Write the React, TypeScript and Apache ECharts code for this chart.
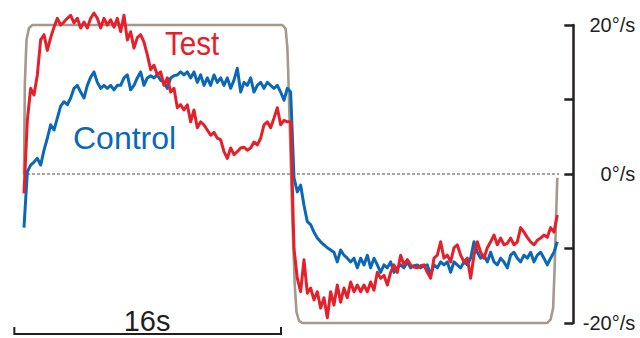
import React, { useEffect, useRef } from "react";
import * as echarts from "echarts";

// Eye-velocity traces sampled every 0.2 s over two 16 s stimulus half-cycles.
const SAMPLE_INTERVAL = 0.2; // seconds

const TEST_VELOCITY = [
  -2.6, 7.2, 11.5, 10.6, 13.3, 18.0, 18.7, 16.6, 18.3, 19.7,
  20.9, 20.0, 20.4, 20.9, 21.3, 20.3, 20.9, 19.6, 20.4, 19.6,
  20.9, 21.6, 20.9, 19.6, 20.9, 20.0, 20.7, 19.7, 20.9, 19.1,
  21.3, 18.0, 19.1, 16.9, 18.3, 18.7, 17.7, 16.0, 14.0, 14.6,
  13.3, 13.7, 11.9, 12.9, 11.0, 11.5, 8.9, 9.3, 8.6, 9.3,
  7.0, 8.6, 6.2, 7.0, 6.6, 5.9, 5.2, 5.6, 4.8, 4.6,
  3.0, 2.1, 3.5, 2.6, 3.0, 3.5, 3.6, 3.2, 3.5, 4.3,
  3.9, 4.8, 6.6, 7.0, 6.2, 7.5, 8.9, 6.6, 7.2, 7.0,
  7.0, -10.0, -14.0, -15.8, -11.5, -16.0, -15.3, -16.9, -15.8, -18.0,
  -16.6, -19.3, -15.8, -17.6, -14.9, -17.2, -15.3, -16.6, -14.5, -15.8,
  -14.9, -15.8, -14.9, -15.8, -14.5, -15.6, -13.2, -14.0, -13.6, -14.9,
  -13.2, -12.2, -13.2, -10.9, -12.2, -11.5, -12.2, -12.5, -12.6, -12.3,
  -12.2, -13.2, -14.0, -11.3, -10.9, -9.1, -11.3, -10.9, -11.8, -9.9,
  -9.5, -10.9, -11.8, -11.3, -14.0, -10.9, -9.1, -10.5, -11.3, -9.9,
  -9.1, -8.2, -9.5, -8.6, -9.5, -9.3, -8.6, -9.5, -9.1, -7.2,
  -7.8, -8.5, -9.1, -9.5, -8.9, -8.6, -8.2, -8.5, -7.2, -7.8,
  -5.5,
];

const CONTROL_VELOCITY = [
  -7.2, 0.3, 1.2, 1.6, 2.1, 1.2, 3.2, 4.8, 6.6, 5.9,
  7.5, 9.1, 9.7, 9.3, 10.2, 11.5, 11.9, 11.0, 10.2, 11.9,
  13.0, 13.7, 12.3, 11.5, 11.9, 11.5, 11.9, 11.3, 11.9, 11.9,
  12.9, 13.3, 11.3, 11.9, 12.9, 13.7, 11.9, 12.9, 13.2, 12.9,
  13.3, 12.6, 12.3, 11.5, 12.9, 13.2, 13.3, 13.7, 13.3, 13.7,
  12.9, 13.7, 12.3, 13.3, 11.9, 12.9, 11.9, 13.3, 12.3, 12.9,
  11.9, 12.9, 11.5, 12.6, 14.2, 11.0, 12.3, 11.9, 12.9, 11.0,
  11.9, 12.3, 11.5, 12.3, 11.9, 11.5, 11.9, 11.0, 9.9, 11.5,
  11.0, -0.5, -2.4, -1.5, -4.2, -6.4, -6.8, -7.8, -8.6, -9.1,
  -9.5, -9.9, -10.2, -10.5, -11.8, -10.2, -10.9, -11.3, -11.8, -11.3,
  -12.6, -11.3, -12.2, -10.9, -12.6, -11.3, -12.2, -13.2, -12.2, -12.6,
  -11.8, -13.2, -12.6, -12.2, -12.6, -11.8, -12.6, -12.3, -12.2, -12.6,
  -12.3, -12.2, -13.6, -12.2, -12.6, -11.8, -12.2, -11.8, -13.2, -11.8,
  -12.2, -12.6, -11.8, -12.2, -11.3, -9.1, -10.5, -11.3, -10.9, -11.8,
  -10.5, -11.8, -12.2, -11.3, -11.8, -12.6, -10.9, -10.5, -11.3, -11.8,
  -10.9, -11.3, -10.5, -11.8, -10.9, -10.5, -11.3, -12.2, -11.3, -10.5,
  -9.1,
];

// Stimulus velocity profile (rounded square wave, ±20 °/s).
const STIMULUS_TIME = [
  0, 0.05, 0.15, 0.3, 0.5, 15.5, 15.7, 15.8, 15.85, 15.95,
  16.1, 16.25, 16.35, 16.5, 16.7, 31.4, 31.6, 31.75, 31.85, 31.95, 32,
];
const STIMULUS_VELOCITY = [
  0, 12, 18, 19.6, 20, 20, 19.5, 17, 14, 6,
  -6, -15, -18.5, -19.7, -20, -20, -19.5, -18, -12, -4, -0.5,
];

const Y_TICKS = [-20, -10, 0, 10, 20];
const Y_LABELED = [-20, 0, 20];
const Y_UNIT = "°/s";

const SCALE_BAR_START = -0.58; // s
const SCALE_BAR_SECONDS = 16;
const SCALE_BAR_LABEL = "16s";
const ZERO_LINE_SPAN = [-0.12, 33.06];

const TEST_LABEL = "Test";
const CONTROL_LABEL = "Control";

const RED = "#e4202a";
const BLUE = "#0b68b6";
const STIM = "#a6988a";
const INK = "#231f20";
const FONT = '"Liberation Sans", Arial, sans-serif';

const toPairs = (values: number[]) =>
  values.map((v, i) => [+(i * SAMPLE_INTERVAL).toFixed(2), v]);

export default function App() {
  const ref = useRef<HTMLDivElement>(null);

  useEffect(() => {
    if (!ref.current) return;
    const chart = echarts.init(ref.current, null, { renderer: "svg" });

    chart.setOption({
      animation: false,
      grid: { left: 24, right: 82.7, top: 25, bottom: 15 },
      xAxis: {
        type: "value",
        min: 0,
        max: 32,
        show: false,
      },
      yAxis: {
        type: "value",
        position: "right",
        offset: 16,
        min: Y_TICKS[0],
        max: Y_TICKS[Y_TICKS.length - 1],
        interval: 10,
        splitLine: { show: false },
        axisLine: { show: true, onZero: false, lineStyle: { color: INK, width: 2.5 } },
        axisTick: { show: true, inside: true, length: 9, lineStyle: { color: INK, width: 2.5 } },
        axisLabel: {
          color: INK,
          fontSize: 20,
          fontFamily: FONT,
          align: "right",
          margin: 62,
          formatter: (v: number) => (Y_LABELED.includes(v) ? `${v}${Y_UNIT}` : ""),
        },
      },
      series: [
        {
          type: "line",
          data: [
            [ZERO_LINE_SPAN[0], 0],
            [ZERO_LINE_SPAN[1], 0],
          ],
          clip: false,
          symbol: "none",
          silent: true,
          lineStyle: { color: "#4a4a4a", width: 1, type: [3, 2] },
          z: 1,
        },
        {
          type: "line",
          data: STIMULUS_TIME.map((t, i) => [t, STIMULUS_VELOCITY[i]]),
          clip: false,
          symbol: "none",
          lineStyle: { color: STIM, width: 2.6 },
          z: 2,
        },
        {
          name: CONTROL_LABEL,
          type: "line",
          data: toPairs(CONTROL_VELOCITY),
          clip: false,
          symbol: "none",
          lineStyle: { color: BLUE, width: 3, join: "round" },
          z: 3,
        },
        {
          name: TEST_LABEL,
          type: "line",
          data: toPairs(TEST_VELOCITY),
          clip: false,
          symbol: "none",
          lineStyle: { color: RED, width: 3, join: "round" },
          z: 4,
        },
      ],
      graphic: [
        {
          type: "text",
          x: 165,
          y: 43,
          scaleX: 0.87,
          style: {
            text: TEST_LABEL,
            fill: RED,
            fontSize: 34,
            fontFamily: FONT,
            textAlign: "left",
            textVerticalAlign: "middle",
          },
        },
        {
          type: "text",
          x: 73,
          y: 138,
          style: {
            text: CONTROL_LABEL,
            fill: BLUE,
            fontSize: 32,
            fontFamily: FONT,
            textAlign: "left",
            textVerticalAlign: "middle",
          },
        },
        {
          type: "text",
          x: 147,
          y: 321,
          style: {
            text: SCALE_BAR_LABEL,
            fill: INK,
            fontSize: 29,
            fontFamily: FONT,
            textAlign: "center",
            textVerticalAlign: "middle",
          },
        },
      ],
    });

    // Time scale bar, positioned through the x scale so its length is 16 s.
    const left = chart.convertToPixel({ gridIndex: 0 }, [SCALE_BAR_START, -20]) as number[];
    const right = chart.convertToPixel(
      { gridIndex: 0 },
      [SCALE_BAR_START + SCALE_BAR_SECONDS, -20]
    ) as number[];
    const barY = left[1] + 11;
    const tickTop = barY - 7;
    chart.setOption({
      graphic: [
        {
          id: "scale-bar",
          type: "polyline",
          shape: {
            points: [
              [left[0], tickTop],
              [left[0], barY],
              [right[0], barY],
              [right[0], tickTop],
            ],
          },
          style: { stroke: INK, lineWidth: 2, fill: "none" },
          z: 10,
        },
      ],
    });

    return () => chart.dispose();
  }, []);

  return (
    <div
      ref={ref}
      style={{ position: "fixed", left: 0, top: 0, width: 640, height: 338, background: "#fff" }}
    />
  );
}
